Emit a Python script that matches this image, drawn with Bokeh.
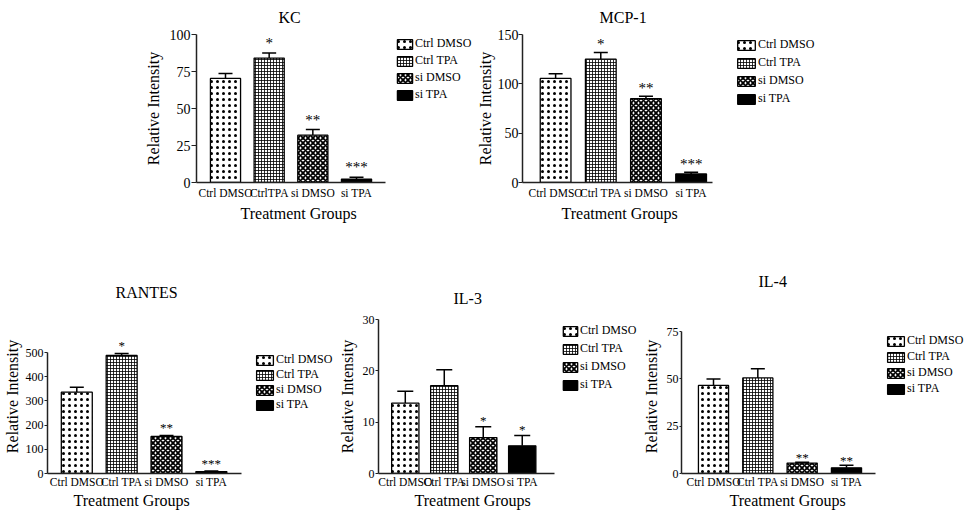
from bokeh.plotting import figure
from bokeh.layouts import column, row
from bokeh.models import (Spacer, Legend, LegendItem, ColumnDataSource, Whisker, TeeHead,
                          FixedTicker, Range1d, Title)
from bokeh.core.properties import value
from bokeh.embed import file_html
from bokeh.resources import INLINE

FONT = "Liberation Serif"

# ---------------- data ----------------
groups = ["Ctrl DMSO", "Ctrl TPA", "si DMSO", "si TPA"]
kc_tick_labels = ["Ctrl DMSO", "CtrlTPA", "si DMSO", "si TPA"]
tick_labels = ["Ctrl DMSO", "Ctrl TPA", "si DMSO", "si TPA"]
x_title = "Treatment Groups"
y_title = "Relative Intensity"

kc_mean = [70.3, 84.1, 32.0, 2.3]
kc_err = [3.4, 3.4, 3.8, 1.2]
kc_sig = ["", "*", "**", "***"]
kc_ticks = [0, 25, 50, 75, 100]

mcp_mean = [105.5, 125.0, 85.0, 8.7]
mcp_err = [4.6, 6.8, 2.3, 1.6]
mcp_sig = ["", "*", "**", "***"]
mcp_ticks = [0, 50, 100, 150]

rantes_mean = [336.0, 488.0, 153.0, 8.0]
rantes_err = [20.0, 8.0, 4.0, 2.0]
rantes_sig = ["", "*", "**", "***"]
rantes_ticks = [0, 100, 200, 300, 400, 500]

il3_mean = [13.7, 17.1, 7.0, 5.4]
il3_err = [2.3, 3.1, 2.1, 2.0]
il3_sig = ["", "", "*", "*"]
il3_ticks = [0, 10, 20, 30]

il4_mean = [46.5, 50.5, 5.5, 3.0]
il4_err = [3.4, 4.8, 0.5, 1.4]
il4_sig = ["", "", "**", "**"]
il4_ticks = [0, 25, 50, 75]

# ---------------- styles ----------------
FILLS = ["white", "white", "white", "black"]
HATCHES = [".", "+", "x", " "]
HSCALE = [6, 3, 5, 6]
HWEIGHT = [1.0, 0.8, 1.8, 1.0]
AXIS_COLOR = "#222222"


def make_panel(title, xlabels, mean, err, sig, yticks, cfg):
    p = figure(width=cfg["w"], height=cfg["h"],
               x_range=Range1d(*cfg["xr"]), y_range=Range1d(0, cfg["ytop"]),
               output_backend="svg", toolbar_location=None,
               min_border_left=cfg["mb"][0], min_border_right=cfg["mb"][1],
               min_border_top=cfg["mb"][2], min_border_bottom=cfg["mb"][3])
    p.outline_line_color = None
    p.grid.visible = False
    p.background_fill_color = "white"
    p.border_fill_color = "white"

    p.title.text = title
    p.title.text_font = FONT
    p.title.text_font_size = "16px"
    p.title.text_font_style = "normal"
    p.title.text_color = "black"
    p.title.align = "left"
    p.title.vertical_align = cfg.get("title_valign", "bottom")
    p.title.standoff = cfg["title_standoff"]
    p.title.offset = cfg["title_offset"]

    xs = list(range(len(mean)))
    src = ColumnDataSource(dict(
        x=xs, top=mean, upper=[m + e for m, e in zip(mean, err)], sig=sig,
        fill=FILLS, hatch=HATCHES, hscale=HSCALE, hweight=HWEIGHT))

    r = p.vbar(x="x", top="top", bottom=0, width=cfg["bw"], source=src,
               fill_color="fill", line_color="black", line_width=1.3,
               hatch_pattern="hatch", hatch_scale="hscale", hatch_weight="hweight",
               hatch_color="black")

    wh = Whisker(base="x", upper="upper", lower="top", source=src, dimension="height",
                 line_color="black", line_width=1.5,
                 upper_head=TeeHead(size=cfg.get("cap", 14), line_width=1.5, line_color="black"),
                 lower_head=None)
    p.add_layout(wh)

    p.text(x="x", y="upper", text="sig", source=src, text_align="center",
           text_baseline="alphabetic", y_offset=cfg["star_off"],
           text_font=value(FONT), text_font_size=cfg["star_fs"], text_color="black")

    # x axis
    xa = p.xaxis[0]
    xa.bounds = cfg["xbounds"]
    xa.ticker = FixedTicker(ticks=xs)
    xa.major_label_overrides = {i: lab for i, lab in zip(xs, xlabels)}
    xa.major_tick_line_color = None
    xa.minor_tick_line_color = None
    xa.axis_line_color = AXIS_COLOR
    xa.axis_line_width = 1.5
    xa.major_label_text_font = FONT
    xa.major_label_text_font_size = "11.5px"
    xa.major_label_text_color = "black"
    xa.major_label_standoff = cfg["xlab_standoff"]

    # x axis title, centred under the bars (not under the legend area)
    p.add_layout(Title(text=x_title, align="left", offset=cfg["xt_offset"],
                       standoff=cfg["xt_standoff"], text_font=FONT,
                       text_font_size="16px", text_font_style="normal",
                       text_color="black"), "below")

    # y axis
    ya = p.yaxis[0]
    ya.bounds = (0, yticks[-1])
    ya.ticker = FixedTicker(ticks=yticks)
    ya.minor_tick_line_color = None
    ya.major_tick_in = 0
    ya.major_tick_out = cfg["tick_out"]
    ya.major_tick_line_color = AXIS_COLOR
    ya.major_tick_line_width = 1.2
    ya.axis_line_color = AXIS_COLOR
    ya.axis_line_width = 1.5
    ya.major_label_text_font = FONT
    ya.major_label_text_font_size = cfg["tick_fs"]
    ya.major_label_text_color = "black"
    ya.major_label_standoff = cfg["ylab_standoff"]
    ya.axis_label = y_title
    ya.axis_label_text_font = FONT
    ya.axis_label_text_font_size = "16px"
    ya.axis_label_text_font_style = "normal"
    ya.axis_label_text_color = "black"
    ya.axis_label_standoff = cfg["ylabel_standoff"]

    items = [LegendItem(label=g, renderers=[r], index=i) for i, g in enumerate(groups)]
    leg = Legend(items=items, location=cfg["leg_loc"], orientation="vertical",
                 padding=0, margin=0, spacing=cfg["leg_spacing"],
                 glyph_width=cfg["leg_gw"], glyph_height=12,
                 label_height=12, label_standoff=1,
                 label_text_font=FONT, label_text_font_size="12px",
                 label_text_color="black",
                 border_line_color=None, background_fill_alpha=0)
    p.add_layout(leg)
    return p


TOP_MB = (34, 58)      # common top / bottom borders, top row
BOT_MB = (79, 37)      # common top / bottom borders, bottom row

kc = make_panel("KC", kc_tick_labels, kc_mean, kc_err, kc_sig, kc_ticks, dict(
    w=343, h=240, xr=(-0.664, 5.679), xbounds=(-0.664, 3.664), ytop=100,
    mb=(66, 0) + TOP_MB,
    title_standoff=14, title_offset=82, title_valign="top",
    star_fs="15px", star_off=-10,
    tick_fs="14px", tick_out=5,
    ylab_standoff=1, ylabel_standoff=5, xlab_standoff=-2,
    xt_offset=44, xt_standoff=2,
    leg_loc=(199, 80), leg_spacing=2, leg_gw=19, bw=0.69))

mcp = make_panel("MCP-1", tick_labels, mcp_mean, mcp_err, mcp_sig, mcp_ticks, dict(
    w=492, h=240, xr=(-0.733, 9.074), xbounds=(-0.733, 3.47), ytop=150,
    mb=(44, 0) + TOP_MB,
    title_standoff=14, title_offset=77, title_valign="top",
    star_fs="15px", star_off=-8,
    tick_fs="14px", tick_out=4,
    ylab_standoff=0, ylabel_standoff=1, xlab_standoff=-2,
    xt_offset=39, xt_standoff=2,
    leg_loc=(213, 76), leg_spacing=3, leg_gw=22, bw=0.68))

rantes = make_panel("RANTES", tick_labels, rantes_mean, rantes_err, rantes_sig, rantes_ticks, dict(
    w=335, h=270, xr=(-0.653, 5.767), xbounds=(-0.653, 3.664), ytop=636.4,
    mb=(45, 0) + BOT_MB,
    title_standoff=38, title_offset=68, star_fs="13px", star_off=-8,
    tick_fs="12px", tick_out=3,
    ylab_standoff=1, ylabel_standoff=2, xlab_standoff=-4,
    xt_offset=26, xt_standoff=-1,
    leg_loc=(207, 61), leg_spacing=0, leg_gw=21, bw=0.69))

il3 = make_panel("IL-3", tick_labels, il3_mean, il3_err, il3_sig, il3_ticks, dict(
    w=304, h=270, xr=(-0.687, 6.008), xbounds=(-0.687, 3.818), ytop=30,
    mb=(38, 0) + BOT_MB,
    title_standoff=26, title_offset=75, star_fs="13px", star_off=-6,
    tick_fs="12px", tick_out=3,
    ylab_standoff=1, ylabel_standoff=4, xlab_standoff=-4,
    xt_offset=36, xt_standoff=-1,
    leg_loc=(183, 81), leg_spacing=3, leg_gw=18, bw=0.70, cap=16))

il4 = make_panel("IL-4", tick_labels, il4_mean, il4_err, il4_sig, il4_ticks, dict(
    w=326, h=270, xr=(-0.722, 5.685), xbounds=(-0.722, 3.652), ytop=81.34,
    mb=(33, 0) + BOT_MB,
    title_standoff=59, title_offset=77, star_fs="13px", star_off=-5,
    tick_fs="12px", tick_out=2,
    ylab_standoff=1, ylabel_standoff=4, xlab_standoff=-4,
    xt_offset=48, xt_standoff=-1,
    leg_loc=(204, 77), leg_spacing=1, leg_gw=21, bw=0.68))

layout = column(
    row(Spacer(width=130, height=240), kc, mcp),
    row(rantes, il3, il4),
)

open("out.html", "w").write(file_html(layout, INLINE))
